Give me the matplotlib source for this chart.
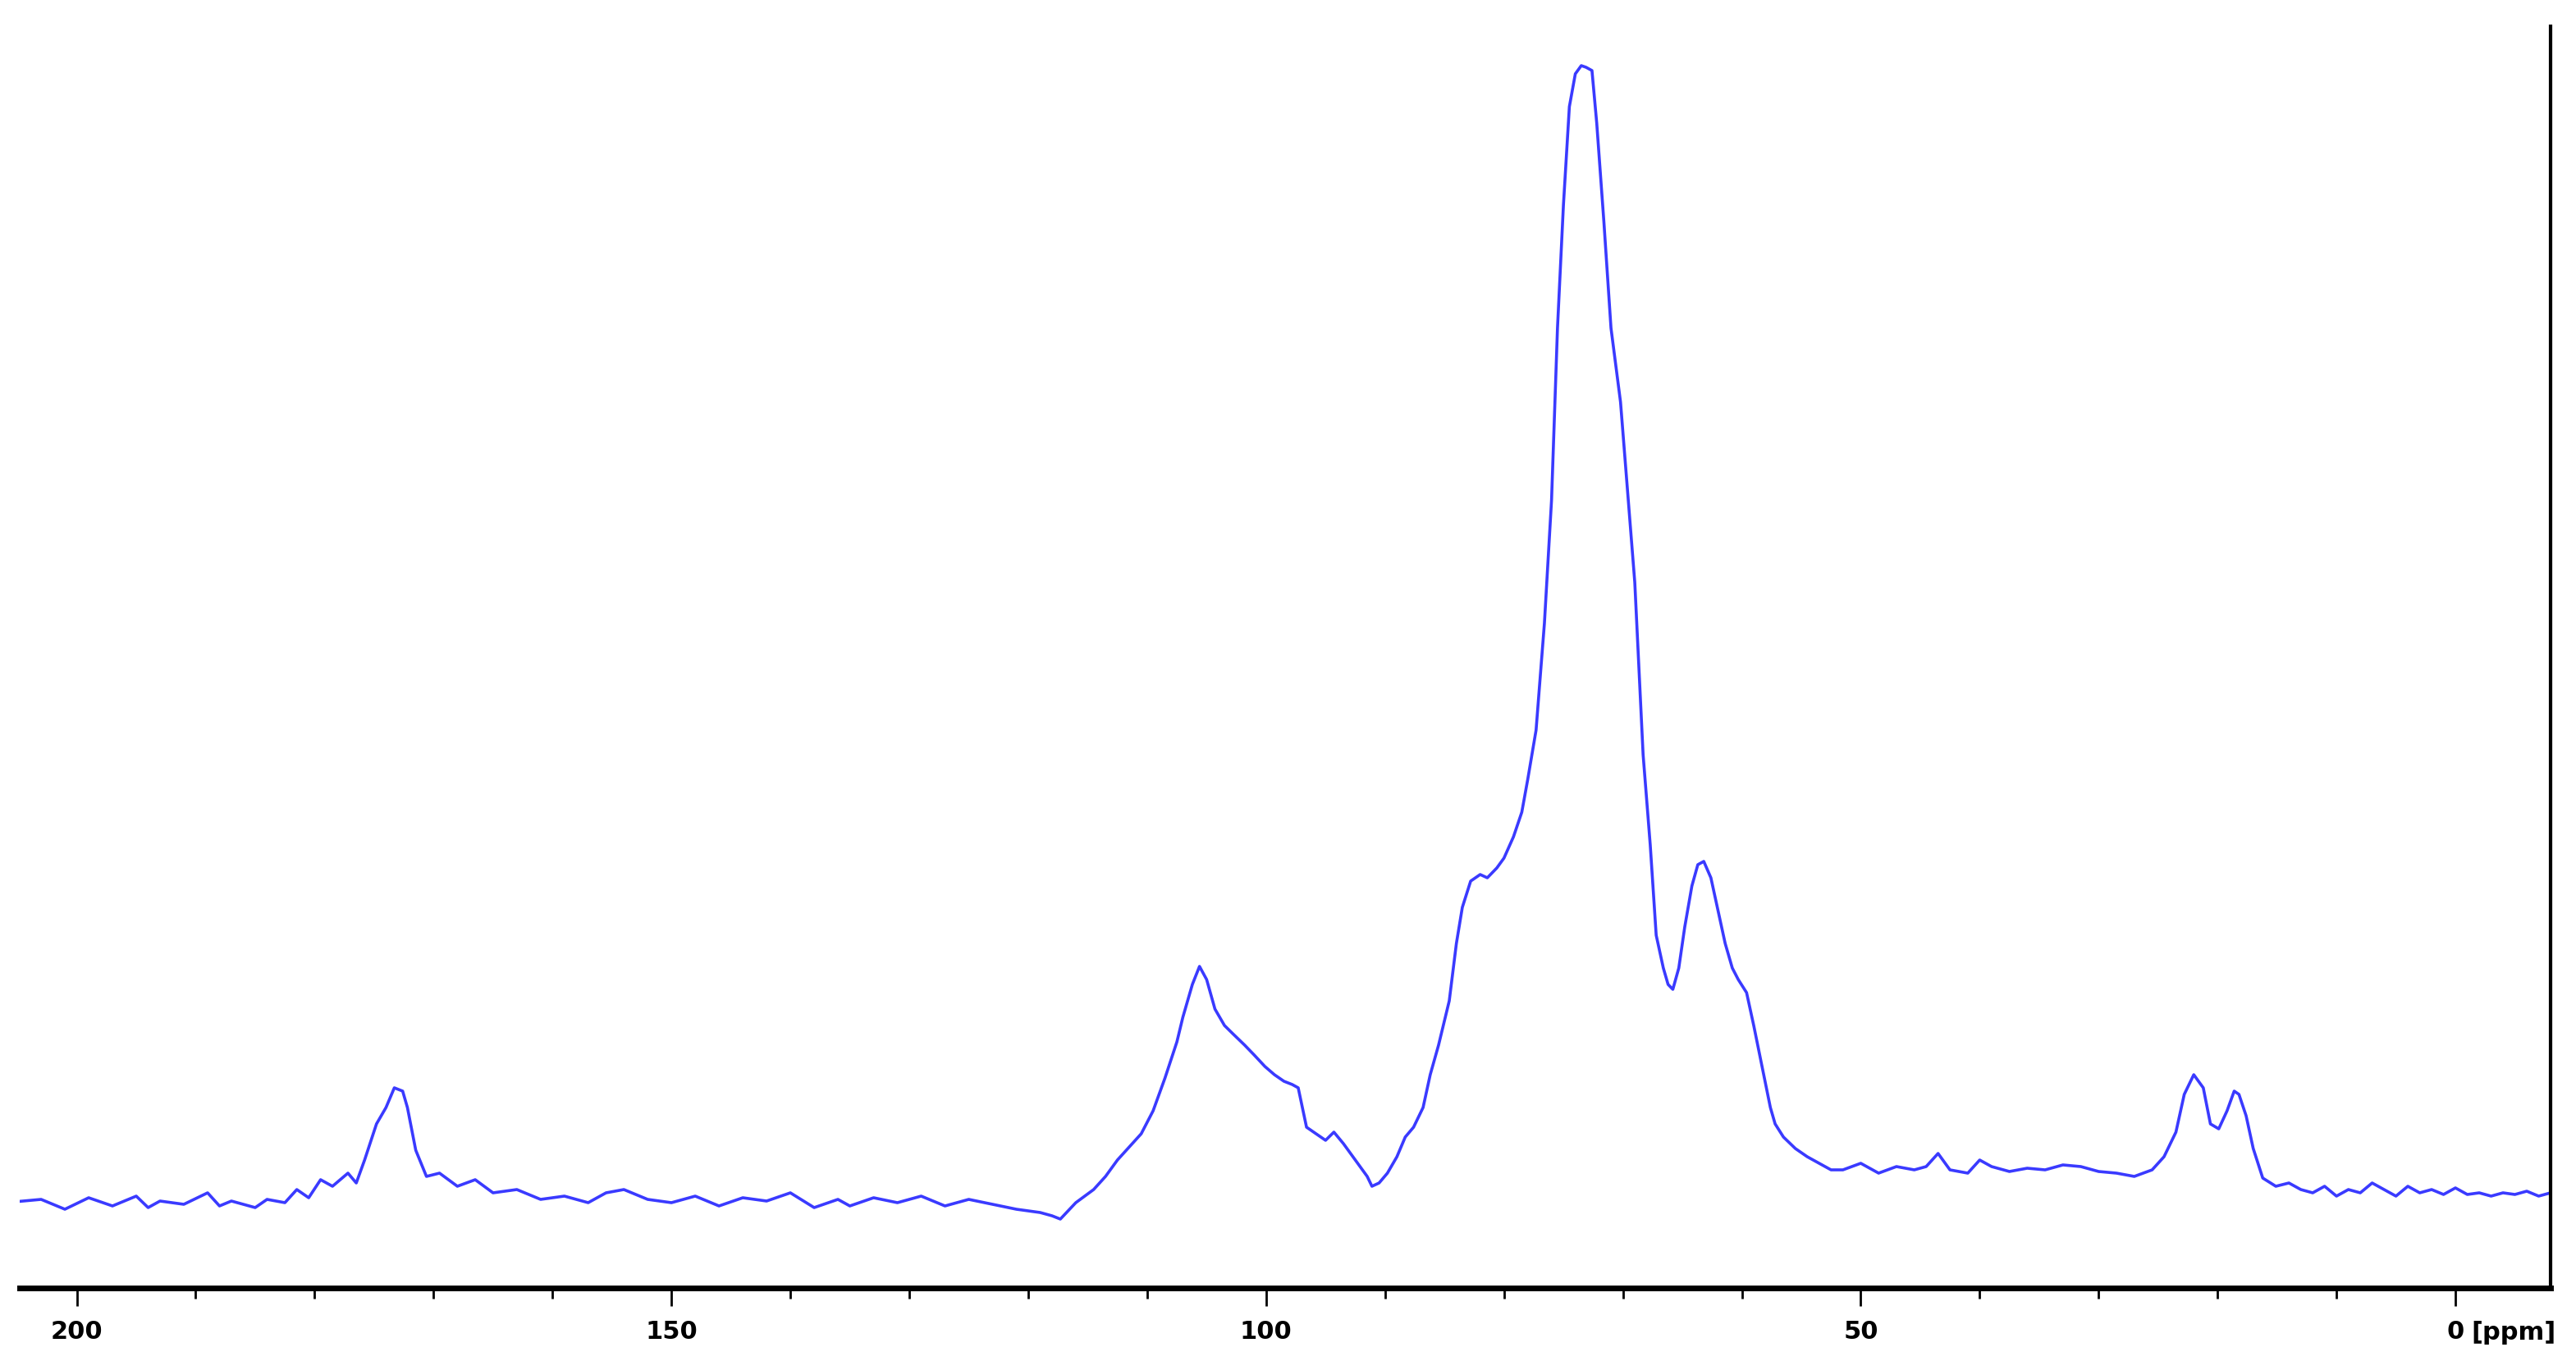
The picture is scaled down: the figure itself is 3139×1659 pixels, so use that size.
import matplotlib.pyplot as plt
from matplotlib.ticker import MultipleLocator, FuncFormatter

plt.rcParams['font.family'] = ['Liberation Sans Narrow', 'DejaVu Sans']

# (chemical shift in ppm, intensity)
points = [
    (206, 52), (203, 54), (201, 48), (199, 55), (197, 50), (195, 56), (194, 49), (193, 53),
    (191, 51), (189, 58), (188, 50), (187, 53), (185, 49), (184, 54), (182.5, 52), (181.5, 60),
    (180.5, 55), (179.5, 66), (178.5, 62), (177.2, 70), (176.5, 64), (175.8, 78), (174.8, 100),
    (174, 110), (173.3, 122), (172.6, 120), (172.2, 110), (171.5, 84), (170.6, 68), (169.5, 70),
    (168, 62), (166.5, 66), (165, 58), (163, 60), (161, 54), (159, 56), (157, 52), (155.5, 58),
    (154, 60), (152, 54), (150, 52), (148, 56), (146, 50), (144, 55), (142, 53), (140, 58),
    (138, 49), (136, 54), (135, 50), (133, 55), (131, 52), (129, 56), (127, 50), (125, 54),
    (123, 51), (121, 48), (119, 46), (118, 44), (117.3, 42), (116, 52), (114.5, 60), (113.5, 68),
    (112.5, 78), (111.5, 86), (110.5, 94), (109.5, 108), (108.5, 128), (107.5, 150), (107, 165),
    (106.2, 185), (105.6, 196), (105, 188), (104.3, 170), (103.5, 160), (102.8, 155), (101.8, 148),
    (101, 142), (100.1, 135), (99.3, 130), (98.5, 126), (97.8, 124), (97.3, 122), (96.6, 98),
    (95.8, 94), (95, 90), (94.3, 95), (93.5, 88), (92.5, 78), (91.5, 68), (91.1, 62), (90.5, 64),
    (89.8, 70), (89, 80), (88.3, 92), (87.6, 98), (86.8, 110), (86.2, 130), (85.5, 148),
    (84.6, 175), (84, 210), (83.5, 232), (82.8, 248), (82, 252), (81.4, 250), (80.6, 256),
    (80, 262), (79.2, 275), (78.5, 290), (78, 310), (77.3, 340), (76.6, 405), (76, 480),
    (75.5, 585), (75, 660), (74.5, 720), (74, 740), (73.5, 745), (73.1, 744), (72.6, 742),
    (72.2, 710), (71.6, 650), (71, 585), (70.2, 540), (69.6, 485), (69, 430), (68.3, 325),
    (67.7, 270), (67.2, 215), (66.6, 195), (66.2, 185), (65.8, 182), (65.3, 195), (64.8, 220),
    (64.2, 245), (63.7, 258), (63.2, 260), (62.6, 250), (62, 230), (61.4, 210), (60.8, 195),
    (60.3, 188), (59.6, 180), (59, 160), (58.3, 135), (57.6, 110), (57.2, 100), (56.5, 92),
    (55.5, 85), (54.5, 80), (53.5, 76), (52.5, 72), (51.5, 72), (50, 76), (48.5, 70), (47, 74),
    (45.5, 72), (44.5, 74), (43.5, 82), (42.5, 72), (41, 70), (40, 78), (39, 74), (37.5, 71),
    (36, 73), (34.5, 72), (33, 75), (31.5, 74), (30, 71), (28.5, 70), (27, 68), (25.5, 72),
    (24.5, 80), (23.5, 95), (22.8, 118), (22, 130), (21.2, 122), (20.6, 100), (19.9, 97),
    (19.2, 108), (18.6, 120), (18.2, 118), (17.6, 105), (17, 85), (16.2, 67), (15.1, 62),
    (14, 64), (13, 60), (12, 58), (11, 62), (10, 56), (9, 60), (8, 58), (7, 64), (6, 60),
    (5, 56), (4, 62), (3, 58), (2, 60), (1, 57), (0, 61), (-1, 57), (-2, 58), (-3, 56),
    (-4, 58), (-5, 57), (-6, 59), (-7, 56), (-8, 58),
]
ppm = [p[0] for p in points]
intensity = [p[1] for p in points]

fig = plt.figure(figsize=(31.39, 16.59), dpi=100)
ax = fig.add_axes([24 / 3139, 1 - 1570 / 1659, (3108 - 24) / 3139, (1570 - 32) / 1659])

ax.plot(ppm, intensity, color='#3a3aff', linewidth=2.6)

ax.set_xlim(204.8, -8.0)
ax.set_ylim(0, 769)

for side in ['top', 'left']:
    ax.spines[side].set_visible(False)
ax.spines['bottom'].set_linewidth(5)
ax.spines['right'].set_linewidth(3)

ax.set_yticks([])
ax.xaxis.set_major_locator(MultipleLocator(50))
ax.xaxis.set_minor_locator(MultipleLocator(10))
ax.xaxis.set_major_formatter(FuncFormatter(lambda v, p: f'{v:.0f}'))
ax.tick_params(axis='x', which='major', direction='out', length=16, width=2,
               labelsize=22, pad=12)
ax.tick_params(axis='x', which='minor', direction='out', length=9, width=2)
for lab in ax.get_xticklabels():
    lab.set_fontweight('bold')

# unit label right after the "0" tick label
ax.annotate('[ppm]', xy=(0, 0), xycoords=('data', 'axes fraction'),
            xytext=(14, -29), textcoords='offset points', ha='left', va='top',
            fontsize=22, fontweight='bold')

fig.savefig('out.png', dpi=100, facecolor='white')
